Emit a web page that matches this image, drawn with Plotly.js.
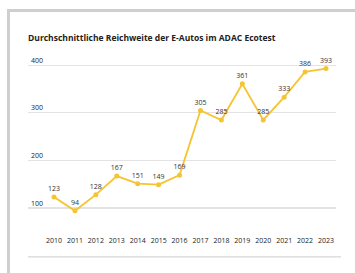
<!DOCTYPE html>
<html><head><meta charset="utf-8">
<script src="https://cdn.plot.ly/plotly-3.0.1.min.js"></script>
<style>
html,body{margin:0;padding:0;background:#fff;}
#frame{position:absolute;left:7px;top:9px;width:360px;height:280px;border-top:3px solid #cfcfcf;border-left:3px solid #cfcfcf;box-sizing:border-box;}
#chart{position:absolute;left:0;top:0;width:355px;height:273px;}
</style></head>
<body>
<div id="frame"></div>
<div id="chart"></div>
<script>
var years = [2010, 2011, 2012, 2013, 2014, 2015, 2016, 2017, 2018, 2019, 2020, 2021, 2022, 2023];
var reichweite = [123, 94, 128, 167, 151, 149, 169, 305, 285, 361, 285, 333, 386, 393];
var yTicks = [100, 200, 300, 400];
var titleText = 'Durchschnittliche Reichweite der E-Autos im ADAC Ecotest';

var font = 'Open Sans, Noto Sans, sans-serif';
var trace = {
  x: years, y: reichweite,
  mode: 'lines+markers+text',
  text: reichweite.map(String),
  textposition: 'top center',
  textfont: {family: font, size: 7, color: '#333'},
  line: {color: '#f5c431', width: 1.8},
  marker: {color: '#f5c431', size: 5},
  hoverinfo: 'none', cliponaxis: false
};
var layout = {
  width: 355, height: 273,
  margin: {l: 28, r: 19, t: 51.4, b: 46},
  paper_bgcolor: 'rgba(0,0,0,0)', plot_bgcolor: 'rgba(0,0,0,0)',
  showlegend: false,
  title: {text: '<b>' + titleText + '</b>', font: {family: font, size: 8.5, color: '#222'},
          x: 0, xref: 'paper', xanchor: 'left', y: 1 - 38/273, yanchor: 'middle'},
  xaxis: {range: [2008.756, 2023.478], tickvals: years, ticktext: years.map(String),
          showgrid: false, zeroline: false, showline: false, ticks: '',
          tickfont: {family: font, size: 7, color: '#222'}, ticklabelstandoff: 8, fixedrange: true},
  yaxis: {range: [60, 430], tickvals: yTicks, ticktext: yTicks.map(String),
          showgrid: true, gridcolor: '#e3e3e3', gridwidth: 1.2, zeroline: false, showline: false,
          ticks: '', ticklabelposition: 'inside top', ticklabelstandoff: 0,
          tickfont: {family: font, size: 7, color: '#222'}, fixedrange: true},
  shapes: [{type: 'line', xref: 'paper', yref: 'paper', x0: 0, x1: 1.016, y0: -0.17, y1: -0.17,
            line: {color: '#d6d6d6', width: 1.2}}]
};
Plotly.newPlot('chart', [trace], layout, {staticPlot: true, displayModeBar: false});
</script>
</body></html>
